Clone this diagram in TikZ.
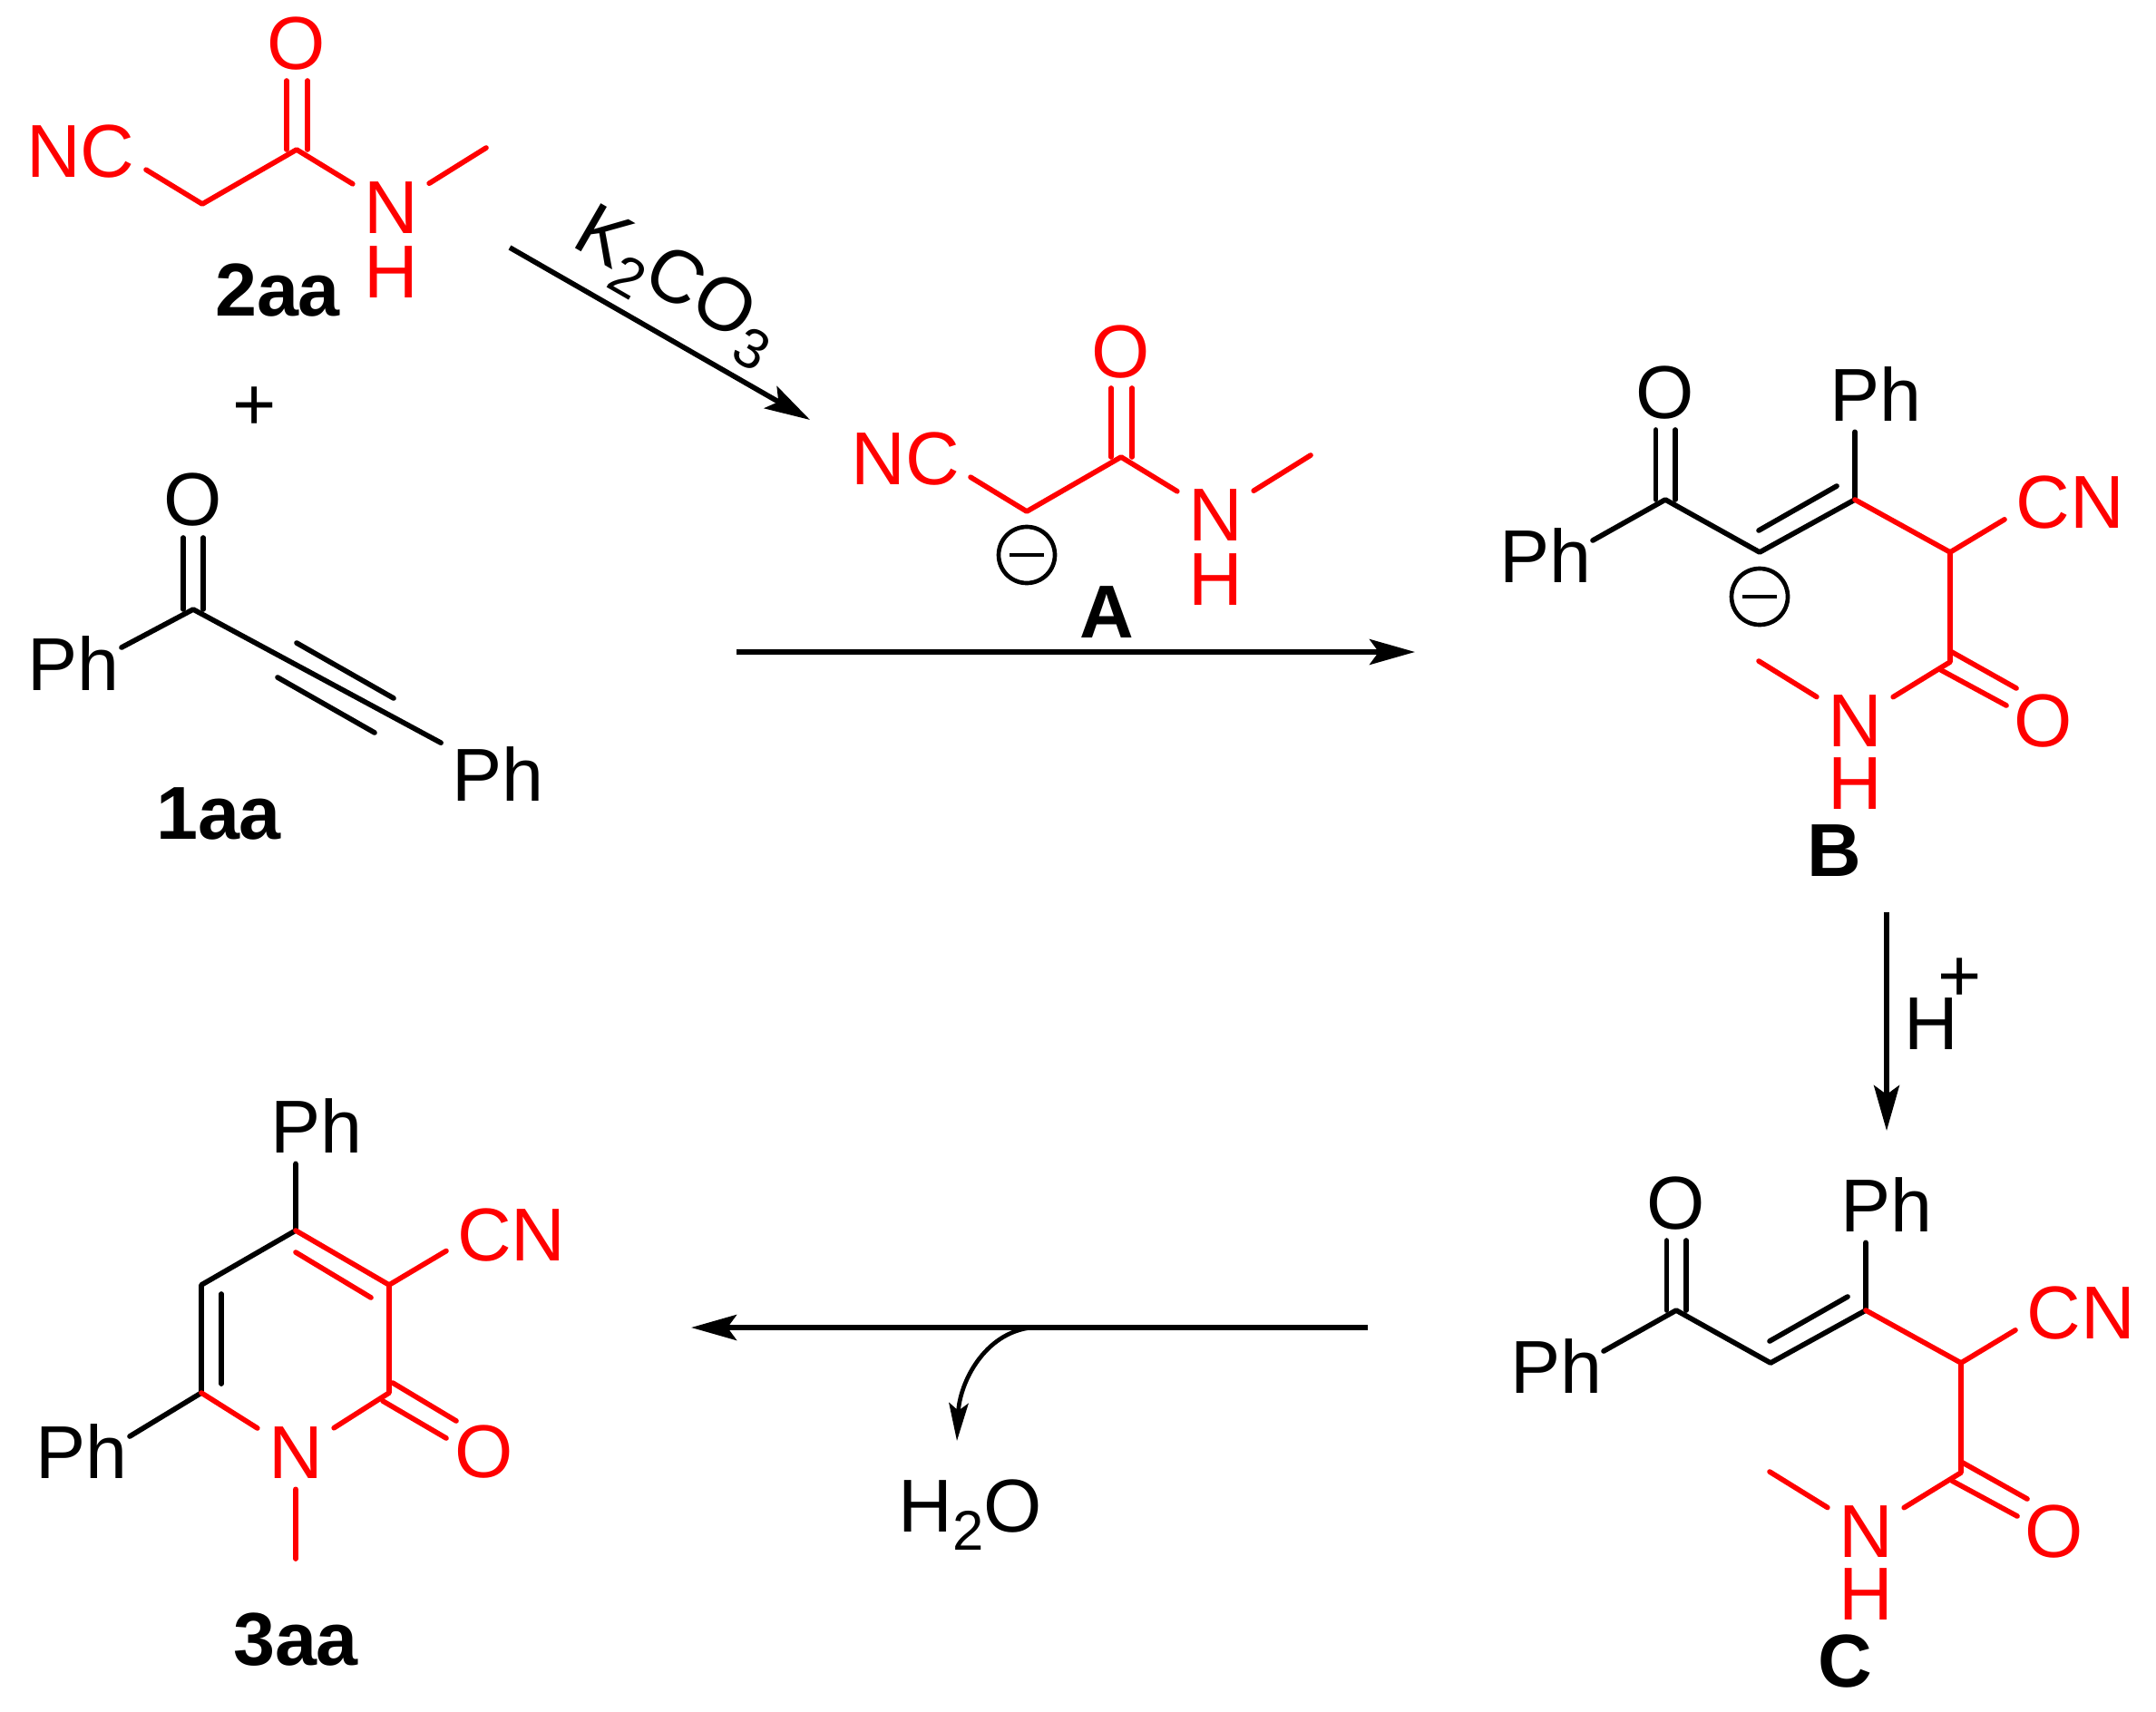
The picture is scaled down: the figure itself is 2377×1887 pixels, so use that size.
\documentclass[tikz,border=0pt]{standalone}
\usepackage{fontspec}
\setmainfont{Liberation Sans}
\usetikzlibrary{arrows.meta}
\definecolor{chemred}{RGB}{255,0,0}
\newcommand{\sbs}[1]{\raisebox{-6pt}{\fontsize{18.5}{20}\selectfont #1}}
\tikzset{
  x=0.3pt,y=-0.3pt,
  atom/.style={font=\fontsize{24.8}{28}\selectfont,inner sep=3.5pt,anchor=base,text=black},
  ratom/.style={atom,text=chemred},
  tag/.style={font=\fontsize{24.8}{28}\selectfont\bfseries,inner sep=0pt,anchor=base,text=black},
  bond/.style={line width=1.7pt,line cap=round,line join=round,black},
  rbond/.style={bond,chemred},
  rxn/.style={line width=1.7pt,black,-{Stealth[length=15pt,width=8.4pt,inset=3pt]}},
  chg/.style={circle,draw=black,line width=1.4pt,minimum size=18.6pt,inner sep=0pt},
}
% cyanoacetamide fragment (2aa and A)
\newcommand{\amidefrag}[1]{%
  \coordinate (#1co) at (327,165);
  \coordinate (#1ch) at (223,225);
  \coordinate (#1d1) at (316,165);
  \coordinate (#1d2) at (339,165);
  \coordinate (#1u1) at (316,89);
  \coordinate (#1u2) at (339,89);
  \coordinate (#1me) at (536,163);
  \node[ratom] (#1O) at (327,77) {O};
  \node[ratom] (#1N) at (431,257) {N};
  \node[ratom] (#1H) at (431,328) {H};
  \node[ratom] (#1NC) at (89,195) {NC};
  \draw[rbond] (#1NC.-16) -- (#1ch) -- (#1co) -- (#1N);
  \draw[rbond] (#1N) -- (#1me);
  \draw[rbond] (#1d1) -- (#1u1);
  \draw[rbond] (#1d2) -- (#1u2);
}
% enone-amide skeleton (B and C)
\newcommand{\enonefrag}[1]{%
  \coordinate (#1c1) at (1836,551);
  \coordinate (#1c2) at (1940,609);
  \coordinate (#1c3) at (2045,551);
  \coordinate (#1c4) at (2150,609);
  \coordinate (#1c5) at (2150,730);
  \coordinate (#1a1) at (1825.5,551);
  \coordinate (#1a2) at (1847,551);
  \coordinate (#1b1) at (1825.5,474);
  \coordinate (#1b2) at (1847,474);
  \coordinate (#1i1) at (1939,585);
  \coordinate (#1i2) at (2025,536);
  \coordinate (#1e1) at (2150,718);
  \coordinate (#1e2) at (2223,759);
  \coordinate (#1f1) at (2140,739);
  \coordinate (#1f2) at (2212,778);
  \coordinate (#1me) at (1939,729);
  \coordinate (#1pe) at (1756,596);
  \node[atom] (#1O) at (1836,461) {O};
  \node[atom] (#1Pl) at (1704,642) {Ph};
  \node[atom] (#1Pt) at (2068,464) {Ph};
  \node[ratom] (#1CN) at (2282,582) {CN};
  \node[ratom] (#1Oa) at (2253,823) {O};
  \node[ratom] (#1N) at (2045,823) {N};
  \node[ratom] (#1H) at (2045,892) {H};
  \draw[bond] (#1pe) -- (#1c1) -- (#1c2) -- (#1c3);
  \draw[bond] (#1a1) -- (#1b1);
  \draw[bond] (#1a2) -- (#1b2);
  \draw[bond] (#1i1) -- (#1i2);
  \draw[bond] (#1c3) -- (#1Pt.south -| #1c3);
  \draw[rbond] (#1c3) -- (#1c4) -- (#1c5) -- (#1N);
  \draw[rbond] (#1c4) -- (#1CN.195);
  \draw[rbond] (#1e1) -- (#1e2);
  \draw[rbond] (#1f1) -- (#1f2);
  \draw[rbond] (#1N) -- (#1me);
}
\begin{document}
\begin{tikzpicture}
\useasboundingbox (0,0) rectangle (2377,1887);

% 2aa
\begin{scope}[shift={(0,0)}]
  \amidefrag{p}
\end{scope}
\node[tag] (t2aa) at (306,348) {2aa};
\node[atom,inner sep=0pt] (plus) at (281,474) {+};

% 1aa
\coordinate (qco) at (213,672);
\coordinate (qpe) at (134,714);
\coordinate (qa1) at (202,672);
\coordinate (qa2) at (224,672);
\coordinate (qb1) at (202,593);
\coordinate (qb2) at (224,593);
\coordinate (qt1) at (327,709);
\coordinate (qt2) at (434,770);
\coordinate (qt3) at (306,747);
\coordinate (qt4) at (413,808);
\node[atom] (qO) at (213,579) {O};
\node[atom] (qPl) at (81,761) {Ph};
\node[atom] (qPr) at (549,883) {Ph};
\draw[bond] (qpe) -- (qco) -- (qPr);
\draw[bond] (qa1) -- (qb1);
\draw[bond] (qa2) -- (qb2);
\draw[bond] (qt1) -- (qt2);
\draw[bond] (qt3) -- (qt4);
\node[tag] (t1aa) at (241,925) {1aa};

% K2CO3 arrow
\coordinate (k1) at (562,273);
\coordinate (k2) at (893,463);
\draw[rxn] (k1) -- (k2);
\node[atom,inner sep=0pt,rotate=-30,anchor=center] (k2co3) at (745,316) {K\sbs{2}CO\sbs{3}};

% A
\begin{scope}[shift={(909,339)}]
  \amidefrag{r}
\end{scope}
\node[chg] (rchg) at (1132,612) {};
\draw[line width=1.4pt,black,shorten <=4.4pt,shorten >=4.4pt] (rchg.west) -- (rchg.east);
\node[tag] (tA) at (1220,703) {A};

% main arrow
\coordinate (m1) at (812,719);
\coordinate (m2) at (1560,719);
\draw[rxn] (m1) -- (m2);

% B
\enonefrag{s}
\node[chg] (schg) at (1940,658) {};
\draw[line width=1.4pt,black,shorten <=4.4pt,shorten >=4.4pt] (schg.west) -- (schg.east);
\node[tag] (tB) at (2022,966) {B};

% H+ arrow
\coordinate (h1) at (2080,1006);
\coordinate (h2) at (2080,1247);
\draw[rxn] (h1) -- (h2);
\node[atom,inner sep=0pt] (hplus) at (2129,1157) {H};
\node[atom,inner sep=0pt] (hp) at (2161,1104) {+};

% C
\begin{scope}[shift={(12,894)}]
  \enonefrag{u}
\end{scope}
\node[tag] (tC) at (2034,1860) {C};

% bottom arrow
\coordinate (w1) at (1508,1464);
\coordinate (w2) at (762,1464);
\draw[rxn] (w1) -- (w2);
\coordinate (c1) at (1137,1464);
\coordinate (c2) at (1055,1589);
\draw[line width=1.4pt,black,-{Stealth[length=12.5pt,width=6.4pt,inset=2.5pt]}] (c1) .. controls (1085,1470) and (1058,1525) .. (c2);
\node[atom,inner sep=0pt,anchor=base west] (h2o) at (990,1689) {H\sbs{2}O};

% 3aa
\coordinate (c4) at (326,1357);
\coordinate (c3) at (429,1417);
\coordinate (c5) at (222,1417);
\coordinate (c6) at (222,1536);
\coordinate (c2p) at (429,1536);
\coordinate (vpe) at (143,1584);
\coordinate (i1) at (326,1381);
\coordinate (i2) at (409,1431);
\coordinate (i3) at (244,1427);
\coordinate (i4) at (244,1526);
\coordinate (o1) at (433,1525);
\coordinate (o2) at (503,1567);
\coordinate (o3) at (422,1545);
\coordinate (o4) at (492,1586);
\coordinate (vme) at (326,1719);
\node[atom] (vPt) at (349,1271) {Ph};
\node[atom] (vPl) at (90,1630) {Ph};
\node[ratom] (vCN) at (564,1390) {CN};
\node[ratom] (vN) at (326,1630) {N};
\node[ratom] (vO) at (534,1629) {O};
\draw[bond] (vPt.south -| c4) -- (c4) -- (c5) -- (c6) -- (vpe);
\draw[bond] (i3) -- (i4);
\draw[rbond] (c6) -- (vN) -- (c2p) -- (c3) -- (c4);
\draw[rbond] (i1) -- (i2);
\draw[rbond] (c3) -- (vCN.194);
\draw[rbond] (o1) -- (o2);
\draw[rbond] (o3) -- (o4);
\draw[rbond] (vN) -- (vme);
\node[tag] (t3aa) at (326,1836) {3aa};
\end{tikzpicture}
\end{document}
